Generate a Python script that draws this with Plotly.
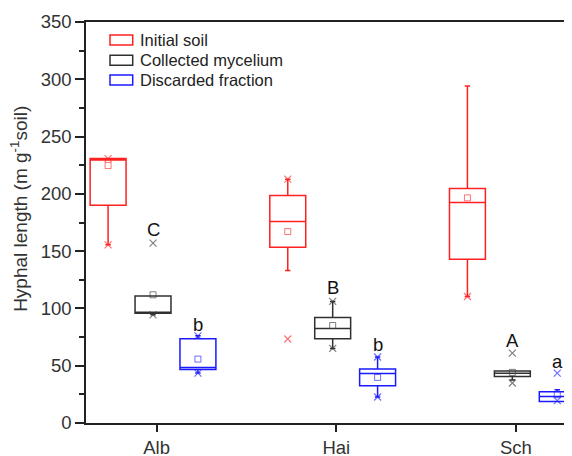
import plotly.graph_objects as go

sites = ["Alb", "Hai", "Sch"]
series = ["Initial soil", "Collected mycelium", "Discarded fraction"]

# Initial soil
init_q1 = [190.1, 153.5, 143.0]
init_med = [229.6, 175.8, 192.4]
init_q3 = [230.8, 198.5, 204.6]
init_lo = [155.5, 133.1, 110.4]
init_hi = [230.8, 212.8, 294.2]
init_mean = [224.7, 167.1, 196.5]
init_min = [155.5, 73.3, 110.4]
init_max = [230.8, 212.8, None]

# Collected mycelium
myc_q1 = [95.9, 73.6, 40.6]
myc_med = [95.9, 82.5, 43.5]
myc_q3 = [110.8, 92.1, 45.4]
myc_lo = [94.4, 65.1, 37.6]
myc_hi = [110.8, 106.1, 45.4]
myc_mean = [111.9, 85.1, 44.2]
myc_min = [94.4, 65.1, 34.9]
myc_max = [157.0, 106.1, 61.0]

# Discarded fraction
dis_q1 = [46.7, 32.5, 18.8]
dis_med = [48.5, 43.3, 23.2]
dis_q3 = [73.5, 47.1, 27.3]
dis_lo = [43.6, 22.7, 18.8]
dis_hi = [76.1, 57.6, 29.0]
dis_mean = [55.8, 39.8, 24.7]
dis_min = [43.6, 22.7, 19.5]
dis_max = [76.1, 57.6, 43.6]

# significance letters
myc_letters = ["C", "B", "A"]
myc_letter_y = [169.2, 118.2, 72.4]
dis_letters = ["b", "b", "a"]
dis_letter_y = [86.3, 68.7, 53.7]

y_title = "Hyphal length (m g<sup>-1</sup>soil)"

colors = ["#FF2020", "#303030", "#1A1AFF"]
light = ["rgba(255,40,40,0.65)", "rgba(60,60,60,0.65)", "rgba(30,30,255,0.65)"]
offsets = [-0.27, -0.02, 0.23]

groups = [
    (init_q1, init_med, init_q3, init_lo, init_hi, init_mean, init_min, init_max),
    (myc_q1, myc_med, myc_q3, myc_lo, myc_hi, myc_mean, myc_min, myc_max),
    (dis_q1, dis_med, dis_q3, dis_lo, dis_hi, dis_mean, dis_min, dis_max),
]

fig = go.Figure()
for k, (q1, med, q3, lo, hi, mean, mn, mx) in enumerate(groups):
    xs = [i + 1 + offsets[k] for i in range(len(sites))]
    fig.add_trace(go.Box(
        x=xs, q1=q1, median=med, q3=q3, lowerfence=lo, upperfence=hi,
        name=series[k], width=0.2, whiskerwidth=0.15,
        fillcolor="rgba(0,0,0,0)", line=dict(color=colors[k], width=1.5),
        boxpoints=False, showlegend=False, hoverinfo="skip",
    ))
    fig.add_trace(go.Scatter(
        x=xs, y=mean, mode="markers", showlegend=False,
        marker=dict(symbol="square-open", size=6, color=light[k], line=dict(width=1)),
        hoverinfo="skip",
    ))
    xx = []
    yy = []
    for x, a, b in zip(xs, mn, mx):
        for v in (a, b):
            if v is not None:
                xx.append(x)
                yy.append(v)
    fig.add_trace(go.Scatter(
        x=xx, y=yy, mode="markers", showlegend=False,
        marker=dict(symbol="x-thin-open", size=7, color=light[k], line=dict(width=1.2, color=light[k])),
        hoverinfo="skip",
    ))

annotations = []
for i in range(len(sites)):
    annotations.append(dict(x=i + 1 + offsets[1], y=myc_letter_y[i], text=myc_letters[i],
                            showarrow=False, font=dict(size=18.5, color="#111")))
    annotations.append(dict(x=i + 1 + offsets[2], y=dis_letter_y[i], text=dis_letters[i],
                            showarrow=False, font=dict(size=18.5, color="#111")))

# manual legend (paper coordinates)
plot_w, plot_h = 486.0, 401.3
shapes = []
row_y = [39.9, 60.2, 80.0]  # pixel rows from top of page (frame top at 22)
for k in range(len(series)):
    yc = 1 - (row_y[k] - 22) / plot_h
    shapes.append(dict(type="rect", xref="paper", yref="paper",
                       x0=24 / plot_w, x1=46.7 / plot_w,
                       y0=yc - 5 / plot_h, y1=yc + 5 / plot_h,
                       line=dict(color=colors[k], width=1.5), fillcolor="rgba(0,0,0,0)"))
    annotations.append(dict(xref="paper", yref="paper", x=51.5 / plot_w, y=yc,
                            xanchor="left", yanchor="middle", text=series[k],
                            showarrow=False, font=dict(size=16.5, color="#222")))

# y-axis title as rotated annotation
annotations.append(dict(xref="paper", yref="paper", x=(19 - 86) / plot_w, y=(423.3 - 209) / plot_h,
                        xanchor="center", yanchor="middle", textangle=-90, text=y_title,
                        showarrow=False, font=dict(size=19, color="#333")))

fig.update_layout(
    width=564, height=448,
    margin=dict(l=78, r=0, t=14, b=33),
    paper_bgcolor="white", plot_bgcolor="white",
    font=dict(family="Arial, Liberation Sans, sans-serif", color="#333"),
    boxmode="overlay",
    showlegend=False,
    annotations=annotations,
    shapes=shapes,
    xaxis=dict(
        range=[0.607, 3.312], tickmode="array", tickvals=[1, 2, 3], ticktext=sites,
        showline=True, linecolor="#222", linewidth=1.5, mirror=True,
        ticks="outside", ticklen=7, tickwidth=1.5, tickcolor="#222",
        tickfont=dict(size=18.5, color="#333"), showgrid=False, zeroline=False,
        automargin=False,
    ),
    yaxis=dict(
        range=[0, 350], dtick=50, tick0=0,
        showline=True, linecolor="#222", linewidth=1.5,
        ticks="outside", ticklen=9, tickwidth=1.5, tickcolor="#222",
        minor=dict(ticks="outside", ticklen=5, dtick=25, tickwidth=1.5, tickcolor="#222", showgrid=False),
        tickfont=dict(size=18.5, color="#333"), showgrid=False, zeroline=False,
        automargin=False,
    ),
)

fig.write_html("out.html")
